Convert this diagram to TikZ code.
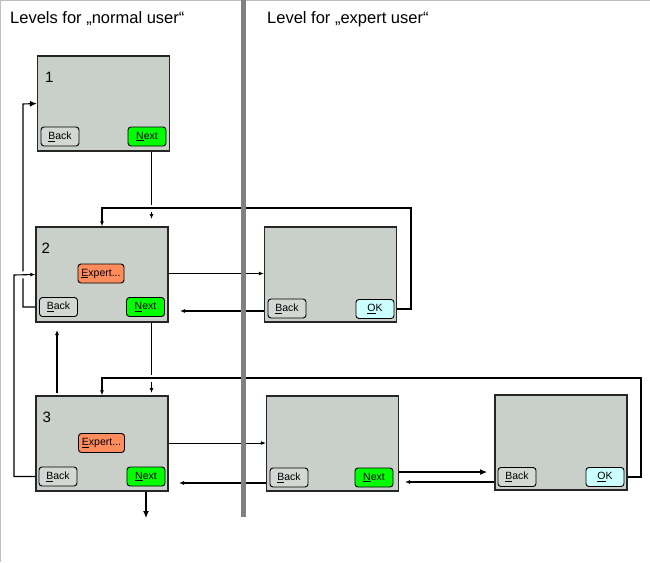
\documentclass[tikz,border=0pt]{standalone}
\usepackage{fontspec}
\setmainfont{Liberation Sans}
\usetikzlibrary{arrows.meta,calc}
\pgfdeclarelayer{bg}
\pgfsetlayers{bg,main}
\definecolor{screenfill}{RGB}{201,207,201}
\definecolor{backfill}{RGB}{212,216,212}
\definecolor{nextfill}{RGB}{0,255,0}
\definecolor{expfill}{RGB}{255,140,92}
\definecolor{okfill}{RGB}{204,255,255}
\definecolor{divider}{RGB}{128,128,128}
\definecolor{frame}{RGB}{190,190,190}
\newcommand{\ulc}[1]{\underline{#1}}
\begin{document}
\begin{tikzpicture}[x=1pt,y=-1pt,
  screenbox/.style={draw=black!85, line width=1.3pt, fill=screenfill,
    minimum width=132pt, minimum height=95pt, inner sep=0pt},
  btn/.style={draw=black, line width=0.9pt, rounded corners=3pt,
    minimum width=38pt, minimum height=19pt, inner sep=0pt,
    font=\fontsize{10.5}{12}\selectfont},
  backbtn/.style={btn, fill=backfill},
  nextbtn/.style={btn, fill=nextfill},
  expbtn/.style={btn, fill=expfill, minimum width=46pt},
  okbtn/.style={btn, fill=okfill},
  numlabel/.style={anchor=base west, inner sep=0pt, font=\fontsize{15}{18}\selectfont},
  title/.style={anchor=base west, inner sep=0pt, font=\fontsize{16.5}{20}\selectfont},
  conn/.style={line width=1.1pt, draw=black},
  tipS/.style={-{Latex[length=5pt,width=4pt]}},
  tipL/.style={-{Latex[length=7pt,width=6pt]}},
  gapline/.style={preaction={draw=white, line width=7pt, -}}
]
\useasboundingbox (0,0) rectangle (650,562);

% titles
\node[title] (t1) at (10,23.5) {Levels for „normal user“};
\node[title] (t2) at (267,23.5) {Level for „expert user“};

% screens
\node[screenbox] (s1) at (103.5,103.5) {};
\node[screenbox] (s2) at (102,274.5) {};
\node[screenbox] (s2x) at (330.5,274.5) {};
\node[screenbox] (s3) at (102,443.5) {};
\node[screenbox] (s3x) at (332.5,443.5) {};
\node[screenbox] (s3y) at (561,442.5) {};

\node[numlabel] (n1) at (45,82) {1};
\node[numlabel] (n2) at (41.5,253) {2};
\node[numlabel] (n3) at (42.5,422) {3};

% buttons
\node[backbtn] (s1back) at (60,136.5) {\ulc{B}ack};
\node[nextbtn] (s1next) at (147,136.5) {\ulc{N}ext};

\node[expbtn] (s2exp) at (101,273.5) {\ulc{E}xpert...};
\node[backbtn] (s2back) at (58.5,307) {\ulc{B}ack};
\node[nextbtn] (s2next) at (145.5,307) {\ulc{N}ext};
\node[backbtn] (s2xback) at (287,308.5) {\ulc{B}ack};
\node[okbtn] (s2xok) at (375,309) {\ulc{O}K};

\node[expbtn] (s3exp) at (101.5,443) {\ulc{E}xpert...};
\node[backbtn] (s3back) at (58,476.5) {\ulc{B}ack};
\node[nextbtn] (s3next) at (146,476.5) {\ulc{N}ext};
\node[backbtn] (s3xback) at (289,477.5) {\ulc{B}ack};
\node[nextbtn] (s3xnext) at (374,477.5) {\ulc{N}ext};
\node[backbtn] (s3yback) at (517,477) {\ulc{B}ack};
\node[okbtn] (s3yok) at (605,477) {\ulc{O}K};

% free ends and bends
\coordinate (c1) at (151.5,219);
\coordinate (c2) at (151.5,393);
\coordinate (c3) at (146,518);
\coordinate (u1) at (57,393);
\coordinate (u2) at (57,330);
\coordinate (e2) at (180,311);
\coordinate (e3) at (179,483);
\coordinate (e4) at (405,482);
\coordinate (f4) at (487,472);
\coordinate (k1) at (411,208);
\coordinate (k2) at (641,378);
\coordinate (k3) at (23,104);
\coordinate (k4) at (14,275);

\begin{pgfonlayer}{bg}
  \fill[white] (0,0) rectangle (650,562);
  \draw[frame, line width=1pt] (0.5,562) -- (0.5,0.5) -- (650,0.5);
  % straight next arrows
  \draw[conn, tipS] (s1next.south -| c1) -- (c1);
  \draw[conn, tipS] (s2next.south -| c2) -- (c2);
  \draw[conn, tipL] (s3next.south) -- (c3);
  \draw[conn, tipS] (u1) -- (u2);
  % back loop into screen 1
  \draw[conn, tipL] (s2back.west) -| (k3) -- (s1.west);
  % expert arrows
  \draw[conn, line width=0.9pt, tipS] (s2exp.east) -- (s2exp.east -| s2x.west);
  \draw[conn, line width=0.9pt, tipS] (s3exp.east) -- (s3exp.east -| s3x.west);
  % back arrows from expert screens
  \draw[conn, tipS] ($(s2xback.west)+(0,2.5)$) -- (e2);
  \draw[conn, tipS] ($(s3xback.west)+(0,5.5)$) -- (e3);
  \draw[conn, tipS] ($(s3yback.west)+(0,5)$) -- (e4);
  \draw[conn, tipL] ($(s3xnext.east)+(0,-5.5)$) -- (f4);
  % loops with line hops
  \draw[conn, gapline, tipS] (s3back.west) -| (k4) -- (s2.west);
  \draw[conn, gapline, tipS] (s2xok.east) -| (k1) -| (s2.north);
  \draw[conn, gapline, tipS] (s3yok.east) -| (k2) -| (s3.north);
\end{pgfonlayer}

% divider
\fill[divider] (241,0) rectangle (245.5,517);
\end{tikzpicture}
\end{document}
